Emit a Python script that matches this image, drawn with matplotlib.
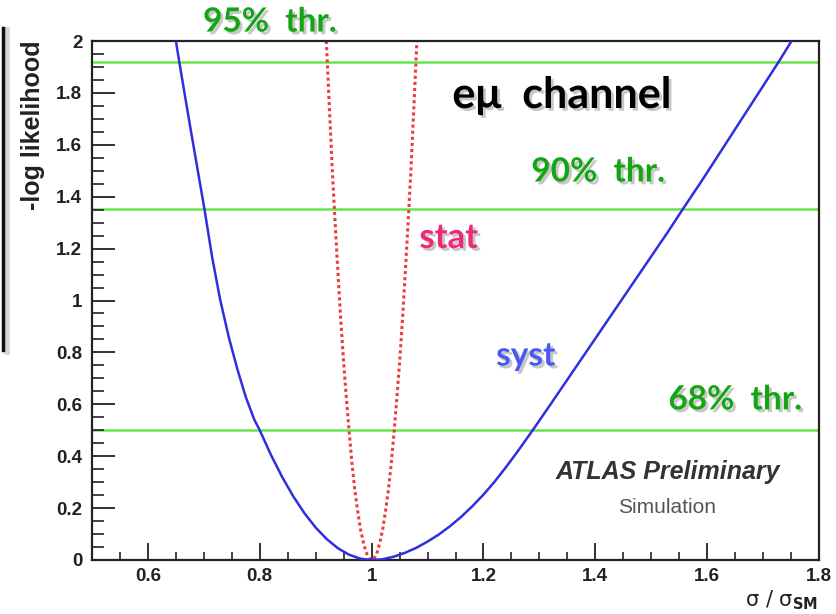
import matplotlib
matplotlib.use('Agg')
import matplotlib.pyplot as plt
import matplotlib.patheffects as pe
from matplotlib.lines import Line2D
from matplotlib.ticker import MultipleLocator, FixedLocator, FuncFormatter

# -log likelihood scan with systematics (solid)
syst_x = [0.650, 0.656, 0.665, 0.675, 0.688, 0.701, 0.715, 0.729, 0.745, 0.760,
          0.775, 0.790, 0.800, 0.820, 0.840, 0.860, 0.880, 0.900, 0.920, 0.940,
          0.960, 0.980, 1.000, 1.020, 1.040, 1.060, 1.080, 1.100, 1.120, 1.140,
          1.160, 1.180, 1.200, 1.220, 1.240, 1.260, 1.288, 1.320, 1.350, 1.380,
          1.410, 1.440, 1.470, 1.500, 1.530, 1.558, 1.590, 1.620, 1.650, 1.680,
          1.710, 1.728, 1.751]
syst_y = [2.000, 1.920, 1.805, 1.677, 1.515, 1.353, 1.165, 1.005, 0.855, 0.735,
          0.628, 0.542, 0.500, 0.405, 0.320, 0.245, 0.180, 0.125, 0.080, 0.045,
          0.020, 0.005, 0.000, 0.003, 0.013, 0.028, 0.047, 0.071, 0.098, 0.130,
          0.166, 0.207, 0.252, 0.302, 0.357, 0.415, 0.500, 0.600, 0.695, 0.790,
          0.885, 0.980, 1.075, 1.170, 1.265, 1.357, 1.460, 1.560, 1.660, 1.760,
          1.860, 1.920, 2.000]

# statistical-only scan (dotted)
stat_x = [0.919, 0.925, 0.930, 0.935, 0.940, 0.945, 0.950, 0.955, 0.960, 0.965,
          0.970, 0.975, 0.980, 0.985, 0.990, 0.995, 1.000, 1.005, 1.010, 1.015,
          1.020, 1.025, 1.030, 1.035, 1.040, 1.045, 1.050, 1.055, 1.060, 1.065,
          1.070, 1.075, 1.081]
stat_y = [2.00, 1.72, 1.49, 1.29, 1.10, 0.92, 0.76, 0.62, 0.49, 0.37,
          0.27, 0.19, 0.12, 0.07, 0.03, 0.008, 0.00, 0.008, 0.03, 0.07,
          0.12, 0.19, 0.27, 0.37, 0.49, 0.62, 0.76, 0.92, 1.10, 1.29,
          1.49, 1.72, 2.00]

# confidence thresholds (delta -lnL)
thr_levels = [0.5, 1.353, 1.92]
thr_labels = ['68%  thr.', '90%  thr.', '95%  thr.']
thr_text_pos = [(1.650, 0.617), (1.405, 1.495), (0.818, 2.073)]

x_major = [0.6, 0.8, 1.0, 1.2, 1.4, 1.6, 1.8]
y_major = [0, 0.2, 0.4, 0.6, 0.8, 1.0, 1.2, 1.4, 1.6, 1.8, 2.0]

W, H = 837, 614
fig = plt.figure(figsize=(W / 100, H / 100), dpi=100)
ax = fig.add_axes([92 / W, 1 - 560 / H, 727 / W, 519 / H])

green = '#66e64a'
ax.set_xlim(0.5, 1.8)
ax.set_ylim(0, 2)
for lv in thr_levels:
    ax.axhline(lv, color=green, lw=1.8, zorder=1)

ax.plot(syst_x, syst_y, color='#2f2fe0', lw=1.8, zorder=3)
ax.plot(stat_x, stat_y, color='#f03a3a', lw=2.2, ls=(0, (1, 1)), zorder=2)

# ROOT-like frame and ticks
for s in ax.spines.values():
    s.set_linewidth(1.6)
    s.set_color('#222222')
ax.xaxis.set_major_locator(FixedLocator(x_major))
ax.yaxis.set_major_locator(FixedLocator(y_major))
ax.xaxis.set_minor_locator(MultipleLocator(0.05))
ax.yaxis.set_minor_locator(MultipleLocator(0.05))
fmt = FuncFormatter(lambda v, p: f'{v:g}')
ax.xaxis.set_major_formatter(fmt)
ax.yaxis.set_major_formatter(fmt)
ax.tick_params(axis='x', which='major', direction='in', length=12, width=1.3,
               pad=6, labelsize=13.5, colors='#222222')
ax.tick_params(axis='x', which='minor', direction='in', length=5.5, width=1.2,
               colors='#222222')
ax.tick_params(axis='y', which='major', direction='in', length=16.5, width=1.3,
               pad=7, labelsize=13.5, colors='#222222')
ax.tick_params(axis='y', which='minor', direction='in', length=8.5, width=1.2,
               colors='#222222')
for lab in ax.get_xticklabels() + ax.get_yticklabels():
    lab.set_fontweight('bold')
    lab.set_family('Liberation Sans')

fig.text(33 / W, 1 - 40 / H, '-log likelihood', rotation=90, ha='center',
         va='top', fontsize=18, fontweight='bold', family='Liberation Sans',
         color='#222222')
fig.text(818 / W, 1 - 600 / H, r'$\mathrm{σ}\ /\ \mathrm{σ}_{\mathbf{SM}}$',
         ha='right', va='center', fontsize=15, color='#222222')

shadow = [pe.withSimplePatchShadow(offset=(2, -2), shadow_rgbFace='k', alpha=0.22)]
hand = dict(family='Lato', fontweight='bold', ha='center', va='center',
            path_effects=shadow, clip_on=False)

for lab, (tx, ty) in zip(thr_labels, thr_text_pos):
    ax.text(tx, ty, lab, color='#14a514', fontsize=24, **hand)
ax.text(1.340, 1.792, 'e\u03bc  channel', color='black', fontsize=31, **hand)
ax.text(1.138, 1.241, 'stat', color='#ee2a78', fontsize=25, **hand)
ax.text(1.276, 0.786, 'syst', color='#4a5af0', fontsize=24, **hand)

ax.text(1.530, 0.339, 'ATLAS Preliminary', ha='center', va='center',
        fontsize=18, fontweight='bold', style='italic', family='Liberation Sans',
        color='#333333')
ax.text(1.528, 0.204, 'Simulation', ha='center', va='center', fontsize=15,
        family='Liberation Sans', color='#555555')

# edge of the neighbouring box on the left
fig.add_artist(Line2D([7 / W, 7 / W], [1 - 30 / H, 1 - 352 / H], color='#bbbbbb', lw=4, alpha=0.6))
fig.add_artist(Line2D([3 / W, 3 / W], [1 - 28 / H, 1 - 350 / H], color='#111111', lw=2.5))

fig.savefig('out.png', dpi=100)
